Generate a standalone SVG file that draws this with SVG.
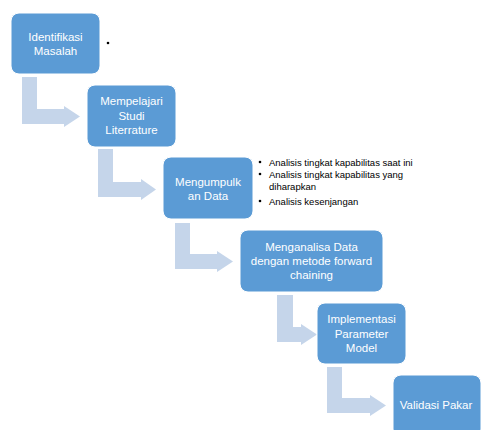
<svg xmlns="http://www.w3.org/2000/svg" width="481" height="430" viewBox="0 0 481 430">
<style>
.box{fill:#5B9BD5;stroke:#FFFFFF;stroke-width:1}
.lbl{font-family:"Liberation Sans",Arial,sans-serif;font-size:11.5px;fill:#FFFFFF;text-anchor:middle}
.arr{fill:#C5D5EA}
.bul{font-family:"Liberation Sans",Arial,sans-serif;font-size:9.5px;fill:#000000}
</style>
<rect width="481" height="430" fill="#FFFFFF"/>
<g id="connectors">
<polygon class="arr" points="22,77 37,77 37,109 64,109 64,106 80,116.5 64,127 64,124 22,124"/>
<polygon class="arr" points="98,149 113,149 113,182 141,182 141,179 156,189.5 141,200 141,197 98,197"/>
<polygon class="arr" points="175,223 190,223 190,254 217,254 217,251 233,261.5 217,272 217,269 175,269"/>
<polygon class="arr" points="277,295 293,295 293,327 301,327 301,324 317,334.5 301,345 301,342 277,342"/>
<polygon class="arr" points="327,367 342,367 342,398 370,398 370,395 386,405.5 370,416 370,413 327,413"/>
</g>
<g id="n1">
<rect class="box" x="11" y="13" width="89" height="61" rx="8"/>
<text class="lbl" x="55.5" y="41">Identifikasi</text>
<text class="lbl" x="55.5" y="55">Masalah</text>
</g>
<circle cx="108" cy="43" r="1.3" fill="#000000"/>
<g id="n2">
<rect class="box" x="87" y="85" width="89" height="62" rx="8"/>
<text class="lbl" x="131.5" y="105">Mempelajari</text>
<text class="lbl" x="131.5" y="120">Studi</text>
<text class="lbl" x="131.5" y="134">Literrature</text>
</g>
<g id="n3">
<rect class="box" x="163" y="157" width="90" height="62" rx="8"/>
<text class="lbl" x="208" y="186">Mengumpulk</text>
<text class="lbl" x="208" y="200">an Data</text>
</g>
<g id="notes">
<circle cx="260" cy="162" r="1.3" fill="#000000"/>
<circle cx="260" cy="174" r="1.3" fill="#000000"/>
<circle cx="260" cy="201" r="1.3" fill="#000000"/>
<text class="bul" x="269" y="165.5">Analisis tingkat kapabilitas saat ini</text>
<text class="bul" x="269" y="177.5">Analisis tingkat kapabilitas yang</text>
<text class="bul" x="269" y="190">diharapkan</text>
<text class="bul" x="269" y="204.5">Analisis kesenjangan</text>
</g>
<g id="n4">
<rect class="box" x="240" y="230" width="143" height="62" rx="8"/>
<text class="lbl" x="311.5" y="251">Menganalisa Data</text>
<text class="lbl" x="311.5" y="265">dengan metode forward</text>
<text class="lbl" x="311.5" y="279">chaining</text>
</g>
<g id="n5">
<rect class="box" x="317" y="303" width="89" height="61" rx="8"/>
<text class="lbl" x="361.5" y="323">Implementasi</text>
<text class="lbl" x="361.5" y="338">Parameter</text>
<text class="lbl" x="361.5" y="352">Model</text>
</g>
<g id="n6">
<rect class="box" x="393" y="375" width="88" height="62" rx="8"/>
<text class="lbl" x="436" y="409">Validasi Pakar</text>
</g>
</svg>
